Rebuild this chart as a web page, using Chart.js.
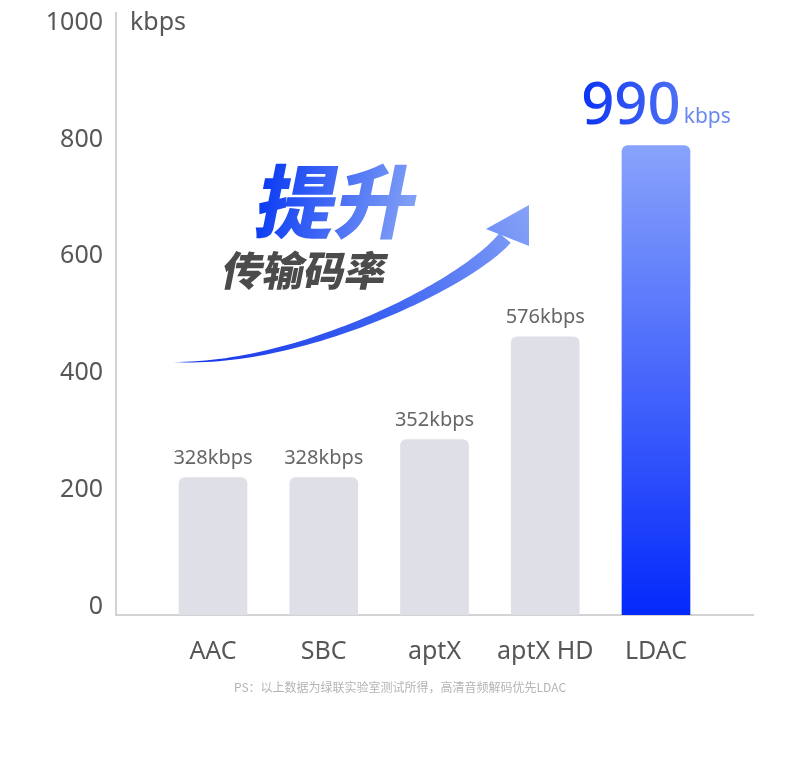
<!DOCTYPE html>
<html>
<head>
<meta charset="utf-8">
<script src="https://cdn.jsdelivr.net/npm/chart.js@4/dist/chart.umd.min.js"></script>
<style>
  html, body { margin: 0; padding: 0; background: #fff; }
  #wrap { width: 790px; height: 764px; position: relative; }
</style>
</head>
<body>
<div id="wrap"><canvas id="bitrate-chart"></canvas></div>
<script>
// codecs and the bar heights as drawn in the picture
const codecs = ['AAC', 'SBC', 'aptX', 'aptX HD', 'LDAC'];
const barValues = [235, 235, 300, 476, 803];
const valueLabels = ['328kbps', '328kbps', '352kbps', '576kbps', '990kbps'];
const yTicks = [0, 200, 400, 600, 800, 1000];
const yUnit = 'kbps';
const headline = '提升';
const subline = '传输码率';
const footnote = 'PS：以上数据为绿联实验室测试所得，高清音频解码优先LDAC';

const colors = {
    bar: '#dfe0e7',
    hiTop: '#88a3fb',
    hiBottom: '#0429fb',
    axis: '#d3d3d3',
    text: '#575757',
    label: '#666666',
    note: '#b4b4b4'
};

const latin = "'Noto Sans', 'Open Sans', sans-serif";
const cjk = "'Noto Sans CJK SC', 'Noto Sans', sans-serif";

function barColor(ctx) {
    if (ctx.dataIndex !== codecs.length - 1) return colors.bar;
    const chart = ctx.chart;
    if (!chart.chartArea || !chart.scales.y) return colors.hiBottom;
    const y = chart.scales.y;
    const g = chart.ctx.createLinearGradient(0, y.getPixelForValue(barValues[ctx.dataIndex]), 0, y.getPixelForValue(0));
    g.addColorStop(0, colors.hiTop);
    g.addColorStop(1, colors.hiBottom);
    return g;
}

/**
 * value labels above bars, big highlight for the last one
 */
const valueLabelPlugin = {
    id: 'valueLabels',
    afterDatasetsDraw(chart) {
        const ctx = chart.ctx;
        const meta = chart.getDatasetMeta(0);
        ctx.save();
        meta.data.forEach((bar, i) => {
            const text = valueLabels[i];
            if (i < codecs.length - 1) {
                ctx.font = `20px ${latin}`;
                ctx.fillStyle = colors.label;
                ctx.textAlign = 'center';
                ctx.textBaseline = 'alphabetic';
                ctx.fillText(text, bar.x, bar.y - 14);
                return;
            }
            const m = text.match(/^(\d+)(\D+)$/);
            const num = m ? m[1] : text;
            const unit = m ? m[2] : '';
            ctx.font = `500 58px ${latin}`;
            const wNum = ctx.measureText(num).width;
            ctx.font = `21px ${latin}`;
            const wUnit = ctx.measureText(unit).width;
            const left = bar.x - (wNum + 3 + wUnit) / 2;
            const base = bar.y - 22;
            const g = ctx.createLinearGradient(left, 0, left + wNum, 0);
            g.addColorStop(0, '#0b33f4');
            g.addColorStop(1, '#4f72f3');
            ctx.textAlign = 'left';
            ctx.textBaseline = 'alphabetic';
            ctx.font = `500 58px ${latin}`;
            ctx.fillStyle = g;
            ctx.fillText(num, left, base);
            ctx.font = `21px ${latin}`;
            ctx.fillStyle = '#6b88f1';
            ctx.fillText(unit, left + wNum + 3, base - 1);
        });
        ctx.restore();
    }
};

/**
 * unit, rising arrow, headline and footnote
 */
const decorPlugin = {
    id: 'decor',
    afterDraw(chart) {
        const ctx = chart.ctx;
        const y = chart.scales.y;
        const area = chart.chartArea;
        ctx.save();

        // unit next to top tick
        ctx.font = `25px ${latin}`;
        ctx.fillStyle = colors.text;
        ctx.textAlign = 'left';
        ctx.textBaseline = 'middle';
        ctx.fillText(yUnit, area.left + 14, y.getPixelForValue(yTicks[yTicks.length - 1]) - 8);

        // tapered arrow
        const p0 = [173, 362], p1 = [300, 366], p2 = [465, 285], p3 = [505, 238];
        const bez = (t, k) => {
            const u = 1 - t;
            return u * u * u * p0[k] + 3 * u * u * t * p1[k] + 3 * u * t * t * p2[k] + t * t * t * p3[k];
        };
        const dbez = (t, k) => {
            const u = 1 - t;
            return 3 * u * u * (p1[k] - p0[k]) + 6 * u * t * (p2[k] - p1[k]) + 3 * t * t * (p3[k] - p2[k]);
        };
        const leftEdge = [], rightEdge = [];
        const n = 60;
        for (let i = 0; i <= n; i++) {
            const t = i / n;
            const x = bez(t, 0), yy = bez(t, 1);
            const dx = dbez(t, 0), dy = dbez(t, 1);
            const len = Math.hypot(dx, dy) || 1;
            const nx = -dy / len, ny = dx / len;
            const w = 15 * Math.pow(t, 0.9) / 2;
            leftEdge.push([x + nx * w, yy + ny * w]);
            rightEdge.push([x - nx * w, yy - ny * w]);
        }
        const ag = ctx.createLinearGradient(173, 362, 530, 205);
        ag.addColorStop(0, '#1533e8');
        ag.addColorStop(0.55, '#3b62f2');
        ag.addColorStop(1, '#86a3f7');
        ctx.fillStyle = ag;
        ctx.beginPath();
        leftEdge.forEach(([a, b], i) => i ? ctx.lineTo(a, b) : ctx.moveTo(a, b));
        rightEdge.reverse().forEach(([a, b]) => ctx.lineTo(a, b));
        ctx.closePath();
        ctx.fill();
        ctx.beginPath();
        ctx.moveTo(529, 205);
        ctx.lineTo(486, 229);
        ctx.lineTo(529, 246);
        ctx.closePath();
        ctx.fill();

        // headline, slanted
        ctx.setTransform(1, 0, -0.2, 1, 0, 0);
        ctx.textAlign = 'left';
        ctx.textBaseline = 'alphabetic';
        ctx.font = `900 80px ${cjk}`;
        const hg = ctx.createLinearGradient(300, 0, 450, 0);
        hg.addColorStop(0, '#0c3cf3');
        hg.addColorStop(1, '#7f9ef6');
        ctx.fillStyle = hg;
        ctx.fillText(headline, 252 + 0.2 * 232, 232);
        ctx.font = `900 41px ${cjk}`;
        ctx.fillStyle = '#4b4b4b';
        ctx.fillText(subline, 220 + 0.2 * 286, 286);
        ctx.setTransform(1, 0, 0, 1, 0, 0);

        // footnote
        ctx.font = `12px ${cjk}`;
        ctx.fillStyle = colors.note;
        ctx.textAlign = 'center';
        ctx.textBaseline = 'middle';
        ctx.fillText(footnote, 400, 687);
        ctx.restore();
    }
};

new Chart(document.getElementById('bitrate-chart'), {
    type: 'bar',
    data: {
        datasets: [{
            data: codecs.map((c, i) => ({ x: i, y: barValues[i] })),
            backgroundColor: barColor,
            borderWidth: 0,
            borderRadius: 6,
            borderSkipped: 'bottom',
            barThickness: 68
        }]
    },
    options: {
        responsive: true,
        maintainAspectRatio: false,
        animation: false,
        layout: { padding: { left: 0, right: 37, top: 13, bottom: 0 } },
        plugins: {
            legend: { display: false },
            tooltip: { enabled: false }
        },
        scales: {
            x: {
                type: 'linear',
                min: -0.876,
                max: codecs.length - 1 + 0.876,
                offset: false,
                grid: { display: false, offset: false },
                border: { display: true, color: colors.axis, width: 2 },
                afterBuildTicks: s => { s.ticks = codecs.map((c, i) => ({ value: i })); },
                ticks: {
                    autoSkip: false,
                    padding: 14,
                    color: colors.text,
                    font: { family: latin, size: 25 },
                    callback: v => codecs[v] ?? ''
                },
                afterFit: s => { s.height = 149; }
            },
            y: {
                min: 0,
                max: 1030,
                grid: { display: false },
                border: { display: true, color: colors.axis, width: 2 },
                afterBuildTicks: s => { s.ticks = yTicks.map(v => ({ value: v })); },
                ticks: {
                    autoSkip: false,
                    padding: 5,
                    labelOffset: -8,
                    color: colors.text,
                    font: { family: latin, size: 25, lineHeight: 0.1 },
                    callback: v => String(v)
                },
                afterFit: s => { s.width = 116; }
            }
        }
    },
    plugins: [valueLabelPlugin, decorPlugin]
});
</script>
</body>
</html>
